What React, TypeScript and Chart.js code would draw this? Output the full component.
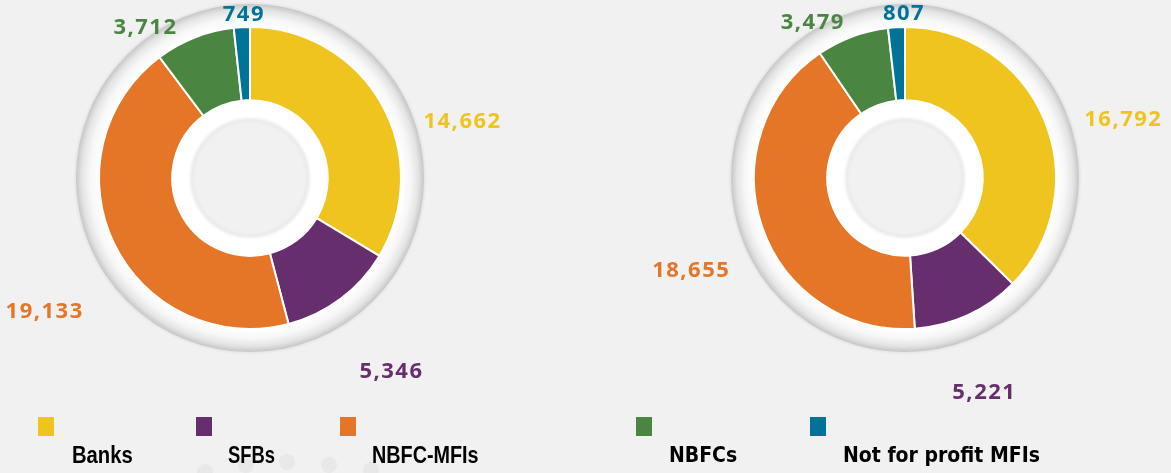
import React, { useEffect, useRef } from "react";
import { Chart, registerables } from "chart.js";

Chart.register(...registerables);

const categories = ["Banks", "SFBs", "NBFC-MFIs", "NBFCs", "Not for profit MFIs"];
const seriesLeft = [14662, 5346, 19133, 3712, 749];
const seriesRight = [16792, 5221, 18655, 3479, 807];
const sliceColors = ["#F0C41E", "#672E6D", "#E57527", "#4A8641", "#007498"];

// label placement: [angle from top clockwise (deg), distance from center (px)]
const labelPolarLeft: [number, number][] = [[75, 219], [144, 239], [237, 246], [325, 184], [357.5, 163]];
const labelPolarRight: [number, number][] = [[75, 225], [160, 229], [246.6, 234], [329, 181], [359.3, 164]];

const BG = "#F1F1F1";

function makeDecorPlugin(labelPolar: [number, number][]) {
  return {
    id: "decor",
    beforeDatasetsDraw(chart: any) {
      const meta = chart.getDatasetMeta(0);
      const arc = meta.data[0];
      if (!arc) return;
      const { x, y, outerRadius } = arc.getProps(["x", "y", "outerRadius"], true);
      const ctx = chart.ctx;
      const rOut = outerRadius + 23;
      ctx.save();
      const sh = ctx.createRadialGradient(x, y, rOut - 2, x, y, rOut + 3);
      sh.addColorStop(0, "rgba(0,0,0,0.08)");
      sh.addColorStop(1, "rgba(0,0,0,0)");
      ctx.fillStyle = sh;
      ctx.beginPath();
      ctx.arc(x, y, rOut + 3, 0, Math.PI * 2);
      ctx.fill();
      const g = ctx.createRadialGradient(x, y, outerRadius, x, y, rOut);
      g.addColorStop(0, "#ffffff");
      g.addColorStop(0.4, "#f7f7f7");
      g.addColorStop(0.75, "#e4e4e4");
      g.addColorStop(1, "#c6c6c6");
      ctx.fillStyle = g;
      ctx.beginPath();
      ctx.arc(x, y, rOut, 0, Math.PI * 2);
      ctx.fill();
      ctx.restore();
    },
    afterDatasetsDraw(chart: any) {
      const meta = chart.getDatasetMeta(0);
      const arc = meta.data[0];
      if (!arc) return;
      const { x, y, innerRadius } = arc.getProps(["x", "y", "innerRadius"], true);
      const ctx = chart.ctx;
      const rIn = innerRadius - 19;
      ctx.save();
      const g = ctx.createRadialGradient(x, y, 0, x, y, innerRadius);
      const f = rIn / innerRadius;
      g.addColorStop(0, BG);
      g.addColorStop(f - 0.06, BG);
      g.addColorStop(f - 0.01, "#ebebeb");
      g.addColorStop(f + 0.04, "#ffffff");
      g.addColorStop(1, "#ffffff");
      ctx.fillStyle = g;
      ctx.beginPath();
      ctx.arc(x, y, innerRadius - 1, 0, Math.PI * 2);
      ctx.fill();
      ctx.restore();
    },
    afterDraw(chart: any) {
      const meta = chart.getDatasetMeta(0);
      const data = chart.data.datasets[0].data as number[];
      const colors = chart.data.datasets[0].backgroundColor as string[];
      const ctx = chart.ctx;
      ctx.save();
      ctx.font = 'bold 22px "Open Sans", "DejaVu Sans", sans-serif';
      try {
        (ctx as any).letterSpacing = "1.5px";
      } catch (e) {}
      ctx.textAlign = "center";
      ctx.textBaseline = "middle";
      meta.data.forEach((el: any, i: number) => {
        const { x, y } = el.getProps(["x", "y"], true);
        const [deg, r] = labelPolar[i];
        const a = (deg * Math.PI) / 180;
        ctx.fillStyle = colors[i];
        ctx.fillText(data[i].toLocaleString("en-US"), x + r * Math.sin(a) + 1, y - r * Math.cos(a));
      });
      ctx.restore();
    },
  };
}

function Donut({ values, labelPolar, left }: { values: number[]; labelPolar: [number, number][]; left: number }) {
  const ref = useRef<HTMLCanvasElement>(null);
  useEffect(() => {
    if (!ref.current) return;
    const chart = new Chart(ref.current, {
      type: "doughnut",
      data: {
        labels: categories,
        datasets: [
          {
            data: values,
            backgroundColor: sliceColors,
            borderColor: "#ffffff",
            borderWidth: 2,
            radius: 151,
          } as any,
        ],
      },
      options: {
        responsive: false,
        animation: false,
        cutout: "51.5%",
        layout: { padding: { bottom: 64 } },
        plugins: { legend: { display: false }, tooltip: { enabled: false } },
      } as any,
      plugins: [makeDecorPlugin(labelPolar) as any],
    });
    return () => chart.destroy();
  }, []);
  return (
    <canvas
      ref={ref}
      width={516}
      height={420}
      style={{ position: "absolute", left, top: 0, width: 516, height: 420 }}
    />
  );
}

const legendBoxX = [38, 196, 340, 636, 810];
const legendTextX = [72, 228, 372, 669, 843];
const legendFonts = [
  '"Liberation Sans", Arial, sans-serif',
  '"Liberation Sans", Arial, sans-serif',
  '"Liberation Sans", Arial, sans-serif',
  '"DejaVu Sans Condensed", "DejaVu Sans", sans-serif',
  '"DejaVu Sans Condensed", "DejaVu Sans", sans-serif',
];
const legendSizes = [23, 23, 23, 21, 21];
const legendScale = [0.88, 0.8, 0.86, 1, 1];
const dotX = [205, 246, 287, 329, 371];
const dotY = [472, 465, 462, 465, 470];

export default function App() {
  return (
    <div
      style={{
        position: "absolute",
        left: 0,
        top: 0,
        width: 1171,
        height: 473,
        background: BG,
        overflow: "hidden",
      }}
    >
      {dotX.map((x, i) => (
        <div
          key={"d" + i}
          style={{
            position: "absolute",
            left: x - 8,
            top: dotY[i] - 8,
            width: 16,
            height: 16,
            borderRadius: "50%",
            background: "#e8e8e8",
          }}
        />
      ))}
      <Donut values={seriesLeft} labelPolar={labelPolarLeft} left={-8} />
      <Donut values={seriesRight} labelPolar={labelPolarRight} left={647} />
      {categories.map((c, i) => (
        <React.Fragment key={c}>
          <div
            style={{
              position: "absolute",
              left: legendBoxX[i],
              top: 417,
              width: 16,
              height: 19,
              background: sliceColors[i],
            }}
          />
          <div
            style={{
              position: "absolute",
              left: legendTextX[i],
              top: 441,
              fontFamily: legendFonts[i],
              fontWeight: "bold",
              fontSize: legendSizes[i],
              lineHeight: "28px",
              color: "#000",
              whiteSpace: "nowrap",
              transform: `scaleX(${legendScale[i]})`,
              transformOrigin: "left center",
            }}
          >
            {c}
          </div>
        </React.Fragment>
      ))}
    </div>
  );
}
